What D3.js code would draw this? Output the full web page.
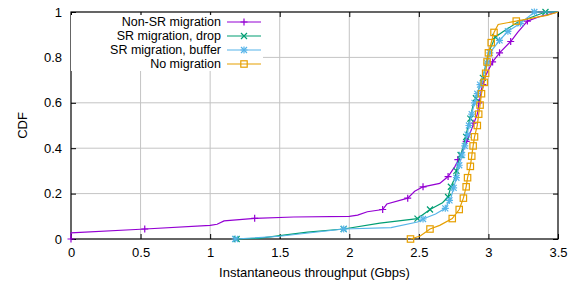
<!DOCTYPE html>
<meta charset="utf-8">
<script src="https://d3js.org/d3.v7.min.js"></script>
<style>
  body { margin: 0; background: #fff; }
  text { font-family: "Liberation Sans", Arial, sans-serif; }
</style>
<div id="chart"></div>
<script>

  // series names (legend order)
  var names = ["Non-SR migration", "SR migration, drop", "SR migration, buffer", "No migration"];
  var colors = ["#9400d3", "#009e73", "#56b4e9", "#e69f00"];
  var markerKinds = ["plus", "cross", "star", "square"];

  // CDF curves: [throughput Gbps, CDF]
  var nonSrLine = [[0,0],[0,0.027],[0.5,0.043],[1.0,0.06],[1.05,0.065],[1.1,0.08],[1.32,0.091],[1.6,0.097],[2.0,0.10],
    [2.06,0.105],[2.13,0.12],[2.24,0.13],[2.27,0.154],[2.42,0.18],[2.47,0.21],[2.53,0.23],[2.65,0.245],[2.71,0.275],
    [2.76,0.32],[2.83,0.405],[2.92,0.55],[2.95,0.66],[2.98,0.72],[3.03,0.78],[3.08,0.82],[3.16,0.87],[3.21,0.91],
    [3.28,0.96],[3.37,0.98],[3.5,1.0]];
  var nonSrMarks = [[0,0],[0.53,0.044],[1.32,0.091],[2.24,0.13],[2.42,0.18],[2.53,0.23],[2.71,0.275],[2.78,0.35],
    [2.84,0.43],[2.89,0.51],[2.93,0.6],[2.96,0.68],[3.03,0.78],[3.08,0.82],[3.16,0.87],[3.28,0.96]];

  var dropLine = [[1.19,0],[1.35,0.003],[1.5,0.015],[1.70,0.03],[1.96,0.044],[2.22,0.07],[2.49,0.09],[2.58,0.13],
    [2.67,0.16],[2.71,0.185],[2.73,0.23],[2.76,0.27],[2.78,0.33],[2.82,0.41],[2.89,0.59],[2.93,0.66],[2.96,0.71],
    [3.0,0.82],[3.05,0.89],[3.12,0.92],[3.21,0.955],[3.28,0.97],[3.41,1.0],[3.5,1.0]];
  var dropMarks = [[1.19,0],[1.96,0.044],[2.49,0.09],[2.58,0.13],[2.71,0.185],[2.73,0.23],[2.77,0.30],[2.80,0.37],
    [2.84,0.45],[2.87,0.53],[2.91,0.62],[2.96,0.71],[3.05,0.89],[3.41,1.0]];

  var bufferLine = [[1.18,0],[1.5,0.012],[1.96,0.044],[2.3,0.05],[2.49,0.075],[2.53,0.088],[2.62,0.11],[2.69,0.135],
    [2.73,0.18],[2.75,0.225],[2.77,0.27],[2.79,0.325],[2.81,0.37],[2.83,0.41],[2.86,0.50],[2.88,0.55],[2.90,0.60],
    [2.92,0.64],[2.94,0.68],[2.99,0.775],[3.01,0.82],[3.08,0.875],[3.14,0.915],[3.23,0.95],[3.33,1.0],[3.5,1.0]];
  var bufferMarks = [[1.18,0],[1.96,0.044],[2.53,0.088],[2.69,0.135],[2.72,0.17],[2.75,0.225],[2.77,0.27],[2.79,0.325],
    [2.81,0.37],[2.83,0.41],[2.85,0.46],[2.86,0.50],[2.88,0.55],[2.90,0.60],[2.92,0.64],[2.94,0.68],[2.99,0.775],
    [3.01,0.82],[3.08,0.875],[3.14,0.915],[3.23,0.95],[3.33,1.0]];

  var noMigLine = [[2.44,0],[2.51,0.013],[2.58,0.044],[2.65,0.06],[2.74,0.09],[2.79,0.13],[2.82,0.18],[2.84,0.23],
    [2.85,0.27],[2.87,0.32],[2.88,0.365],[2.89,0.41],[2.90,0.45],[2.92,0.50],[2.93,0.55],[2.94,0.59],[2.95,0.64],
    [2.97,0.69],[2.98,0.73],[2.99,0.78],[3.0,0.82],[3.02,0.865],[3.04,0.91],[3.07,0.945],[3.2,0.96],[3.42,0.985],[3.5,1.0]];
  var noMigMarks = [[2.44,0],[2.58,0.044],[2.74,0.09],[2.79,0.13],[2.82,0.18],[2.84,0.23],[2.85,0.27],[2.87,0.32],
    [2.88,0.365],[2.89,0.41],[2.90,0.45],[2.92,0.50],[2.93,0.55],[2.94,0.59],[2.95,0.64],[2.97,0.69],[2.98,0.73],
    [2.99,0.78],[3.0,0.82],[3.02,0.865],[3.04,0.91],[3.2,0.96]];

  var lines = [nonSrLine, dropLine, bufferLine, noMigLine];
  var marks = [nonSrMarks, dropMarks, bufferMarks, noMigMarks];

  var xTicks = [0, 0.5, 1, 1.5, 2, 2.5, 3, 3.5];
  var yTicks = [0, 0.2, 0.4, 0.6, 0.8, 1];

  var margin = {top: 12, right: 22, bottom: 46, left: 71},
      width = 580 - margin.left - margin.right,
      height = 285 - margin.top - margin.bottom;

  var svg = d3.select("#chart").append("svg")
      .attr("width", 580).attr("height", 285)
    .append("g")
      .attr("transform", "translate(" + margin.left + "," + margin.top + ")");

  var x = d3.scaleLinear().domain([0, 3.5]).range([0, width]);
  var y = d3.scaleLinear().domain([0, 1]).range([height, 0]);

  // grid
  svg.append("g").selectAll("line").data(xTicks.slice(1, -1)).join("line")
      .attr("x1", d => x(d)).attr("x2", d => x(d)).attr("y1", 0).attr("y2", height)
      .attr("stroke", "#c4c4c4").attr("stroke-width", 1);
  svg.append("g").selectAll("line").data(yTicks.slice(1, -1)).join("line")
      .attr("y1", d => y(d)).attr("y2", d => y(d)).attr("x1", 0).attr("x2", width)
      .attr("stroke", "#c4c4c4").attr("stroke-width", 1);

  // axes, inward ticks on all four sides
  var fmt = d3.format("~g");
  var xa = svg.append("g").attr("transform", "translate(0," + height + ")")
      .call(d3.axisBottom(x).tickValues(xTicks).tickFormat(fmt).tickSizeInner(-5).tickSizeOuter(0).tickPadding(9));
  var xt = svg.append("g").call(d3.axisTop(x).tickValues(xTicks).tickFormat("").tickSizeInner(-5).tickSizeOuter(0));
  var ya = svg.append("g")
      .call(d3.axisLeft(y).tickValues(yTicks).tickFormat(fmt).tickSizeInner(-5).tickSizeOuter(0).tickPadding(9));
  var yr = svg.append("g").attr("transform", "translate(" + width + ",0)")
      .call(d3.axisRight(y).tickValues(yTicks).tickFormat("").tickSizeInner(-5).tickSizeOuter(0));
  [xa, xt, ya, yr].forEach(function(g) {
    g.select(".domain").remove();
    g.selectAll("line").attr("stroke", "#000");
    g.selectAll("text").attr("font-size", 13).attr("fill", "#000");
  });

  // border
  svg.append("rect").attr("width", width).attr("height", height)
      .attr("fill", "none").attr("stroke", "#000").attr("stroke-width", 1.2);

  // axis labels
  svg.append("text").attr("x", width / 2).attr("y", height + 38)
      .attr("text-anchor", "middle").attr("font-size", 13).text("Instantaneous throughput (Gbps)");
  svg.append("text").attr("transform", "translate(" + (-44) + "," + (height / 2) + ") rotate(-90)")
      .attr("text-anchor", "middle").attr("font-size", 13).text("CDF");

  function marker(g, kind, cx, cy, color) {
    var s = 3.5;
    if (kind == "plus" || kind == "star") {
      g.append("path").attr("d", "M" + (cx - s) + "," + cy + "H" + (cx + s) + "M" + cx + "," + (cy - s) + "V" + (cy + s))
        .attr("stroke", color).attr("stroke-width", 1.2);
    }
    if (kind == "cross" || kind == "star") {
      var t = 3;
      g.append("path").attr("d", "M" + (cx - t) + "," + (cy - t) + "L" + (cx + t) + "," + (cy + t) +
          "M" + (cx - t) + "," + (cy + t) + "L" + (cx + t) + "," + (cy - t))
        .attr("stroke", color).attr("stroke-width", 1.2);
    }
    if (kind == "square") {
      g.append("rect").attr("x", cx - 3.2).attr("y", cy - 3.2).attr("width", 6.4).attr("height", 6.4)
        .attr("fill", "none").attr("stroke", color).attr("stroke-width", 1.2);
    }
  }

  var line = d3.line().x(d => x(d[0])).y(d => y(d[1]));
  var plot = svg.append("g");
  lines.forEach(function(pts, i) {
    var g = plot.append("g");
    g.append("path").attr("d", line(pts)).attr("fill", "none")
        .attr("stroke", colors[i]).attr("stroke-width", 1.2);
    marks[i].forEach(function(p) { marker(g, markerKinds[i], x(p[0]), y(p[1]), colors[i]); });
  });

  // legend
  var leg = svg.append("g").attr("transform", "translate(" + (221 - margin.left) + "," + (22 - margin.top) + ")");
  leg.append("rect").attr("x", -150).attr("y", -7).attr("width", 192).attr("height", 56).attr("fill", "#fff");
  names.forEach(function(n, i) {
    var row = leg.append("g").attr("transform", "translate(0," + (i * 14) + ")");
    row.append("text").attr("x", 0).attr("y", 0).attr("dy", "0.35em")
        .attr("text-anchor", "end").attr("font-size", 12.5).text(n);
    row.append("line").attr("x1", 6).attr("x2", 40).attr("y1", 0).attr("y2", 0)
        .attr("stroke", colors[i]).attr("stroke-width", 1.2);
    marker(row, markerKinds[i], 23, 0, colors[i]);
  });

</script>
